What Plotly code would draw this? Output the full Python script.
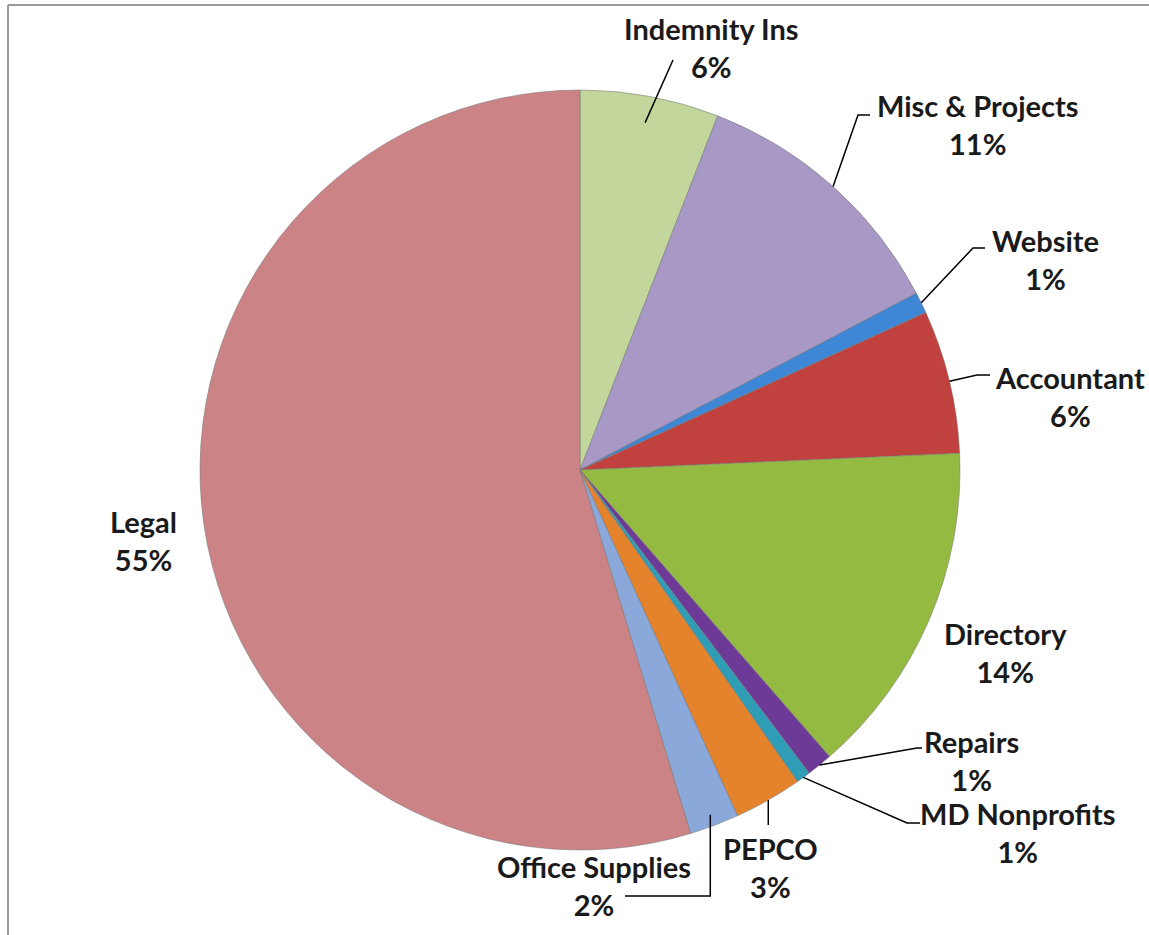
import math
import plotly.graph_objects as go

# ---- data ----
categories = ["Indemnity Ins", "Misc & Projects", "Website", "Accountant", "Directory",
              "Repairs", "MD Nonprofits", "PEPCO", "Office Supplies", "Legal"]
values = [5.9, 11.4, 0.9, 6.1, 14.3, 1.1, 0.6, 2.9, 2.1, 54.7]
colors = ["#C3D69B", "#A898C6", "#3E86D6", "#C0413D", "#95BA42",
          "#6E3A98", "#2E9DB5", "#E5832C", "#8AA8DA", "#CC8385"]

W, H = 1149, 935
CX, CY, R = 580, 470, 380  # pie center / radius in pixels (layout)

def px(x):
    return x / W

def py(y):
    return 1 - y / H

# label placement (layout): text center (x, y of first line), leader elbow points, anchor radius factor
label_layout = {
    "Indemnity Ins":   dict(tx=712, ty=28, path=[(673, 60)], rf=0.93),
    "Misc & Projects": dict(tx=978, ty=105, path=[(858, 115), (870, 115)], rf=1.0),
    "Website":         dict(tx=1045, ty=240, path=[(973, 248), (985, 248)], rf=1.0),
    "Accountant":      dict(tx=1070, ty=377, path=[(977, 375), (990, 375)], rf=1.0),
    "Directory":       dict(tx=1005, ty=633, path=None, rf=1.0),
    "Repairs":         dict(tx=971, ty=741, path=[(917, 748), (922, 748)], rf=1.0),
    "MD Nonprofits":   dict(tx=1018, ty=813, path=[(907, 823), (920, 823)], rf=1.0),
    "PEPCO":           dict(tx=770, ty=848, path=[(None, 825)], rf=1.0),
    "Office Supplies": dict(tx=594, ty=866, path=[(None, 896), (625, 896)], rf=0.97),
    "Legal":           dict(tx=143, ty=521, path=None, rf=1.0),
}

total = sum(values)

fig = go.Figure()
fig.add_trace(go.Pie(
    labels=categories,
    values=values,
    sort=False,
    direction="clockwise",
    rotation=0,
    marker=dict(colors=colors, line=dict(color="rgba(120,120,120,0.55)", width=1)),
    textinfo="none",
    hoverinfo="label+percent",
    domain=dict(x=[px(CX - R), px(CX + R)], y=[py(CY + R), py(CY - R)]),
    showlegend=False,
))

shapes = []
annotations = []
cum = 0.0
font = dict(family="Lato, Carlito, Open Sans, sans-serif", size=29, color="#1a1a1a")
for cat, v in zip(categories, values):
    mid = (cum + v / 2) / total * 2 * math.pi
    cum += v
    lay = label_layout[cat]
    pct = round(v / total * 100)
    annotations.append(dict(
        x=px(lay["tx"]), y=py(lay["ty"] - 19), xref="paper", yref="paper",
        text=f"<b>{cat}</b><br><b>{pct}%</b>", showarrow=False,
        xanchor="center", yanchor="top", align="center", font=font,
    ))
    if lay["path"]:
        ax = CX + lay["rf"] * R * math.sin(mid)
        ay = CY - lay["rf"] * R * math.cos(mid)
        pts = [(ax, ay)]
        for (x, y) in lay["path"]:
            pts.append((ax if x is None else x, y))
        d = "M " + " L ".join(f"{px(x):.5f},{py(y):.5f}" for x, y in pts)
        shapes.append(dict(type="path", path=d, xref="paper", yref="paper",
                           line=dict(color="black", width=1.5)))

# frame lines (top and left edges of the chart area)
shapes.append(dict(type="line", xref="paper", yref="paper", x0=px(8), x1=1, y0=py(5), y1=py(5),
                   line=dict(color="#9a9a9a", width=2)))
shapes.append(dict(type="line", xref="paper", yref="paper", x0=px(8), x1=px(8), y0=0, y1=py(5),
                   line=dict(color="#9a9a9a", width=2)))

fig.update_layout(
    width=W, height=H,
    margin=dict(l=0, r=0, t=0, b=0),
    paper_bgcolor="white",
    plot_bgcolor="white",
    shapes=shapes,
    annotations=annotations,
)

fig.write_html("out.html",
               config={"displayModeBar": False},
               post_script="document.body.style.margin='0';document.body.style.overflow='hidden';")
